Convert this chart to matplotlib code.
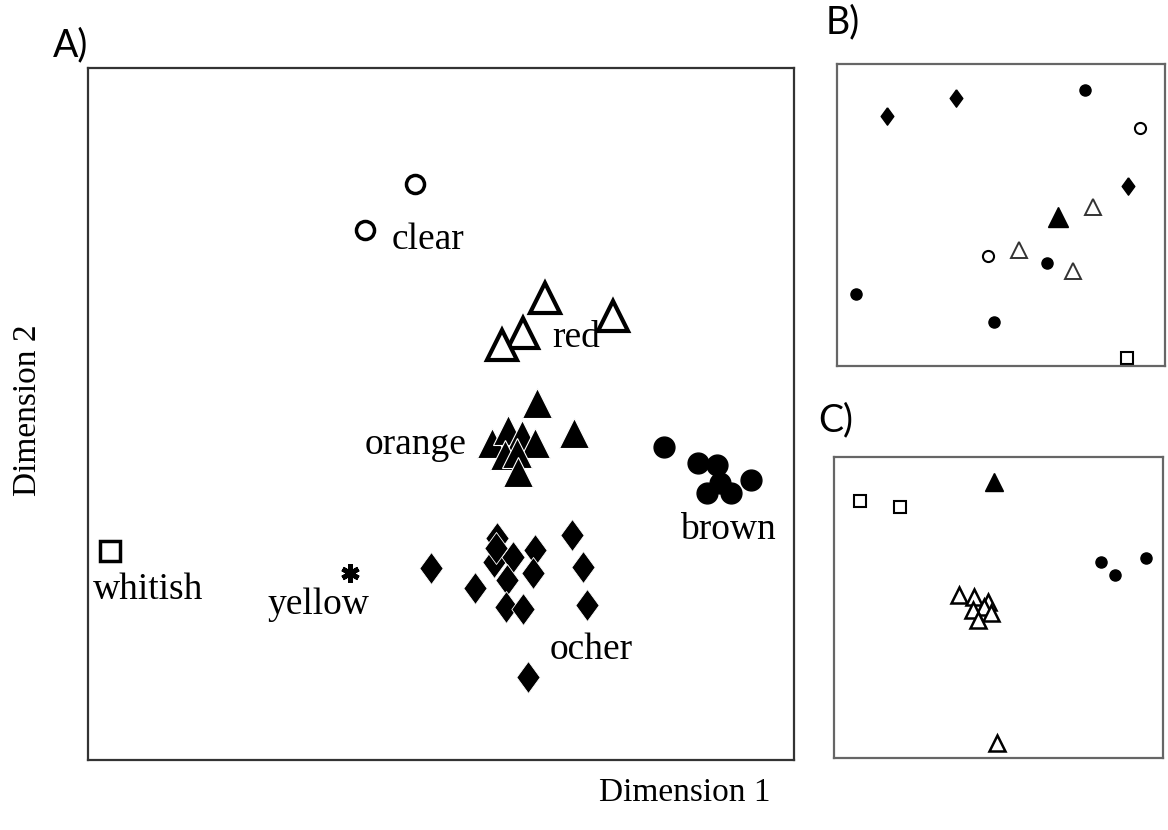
import matplotlib
matplotlib.use("Agg")
import matplotlib.pyplot as plt

# panel A: coordinates on dimension 1 / dimension 2 (arbitrary units)
clear_x = [327, 277]
clear_y = [576, 530]
red_x = [457, 525, 435, 414]
red_y = [462, 444, 427, 415]
orange_x = [449, 486, 404, 420, 434, 447, 417, 429, 430]
orange_y = [357, 327, 317, 330, 325, 317, 305, 307, 288]
brown_x = [576, 610, 629, 632, 619, 643, 663]
brown_y = [313, 297, 295, 277, 267, 267, 280]
ocher_x = [343, 409, 406, 425, 447, 484, 495, 387, 419, 445, 418, 435, 499, 440, 408]
ocher_y = [192, 222, 198, 203, 210, 225, 193, 172, 180, 187, 153, 151, 155, 83, 212]
whitish_x = [22]
whitish_y = [209]
yellow_x = [262]
yellow_y = [187]

# panel B
b_ocher_x = [50, 119, 291]
b_ocher_y = [250, 268, 180]
b_brown_x = [248, 210, 19, 157]
b_brown_y = [276, 103, 72, 44]
b_clear_x = [303, 151]
b_clear_y = [238, 110]
b_red_x = [256, 182, 236]
b_red_y = [159, 116, 95]
b_orange_x = [221]
b_orange_y = [149]
b_whitish_x = [290]
b_whitish_y = [8]

# panel C
c_orange_x = [160]
c_orange_y = [276]
c_whitish_x = [26, 66]
c_whitish_y = [257, 251]
c_brown_x = [267, 281, 312]
c_brown_y = [196, 183, 200]
c_red_x = [125, 140, 154, 150, 139, 157, 144, 163]
c_red_y = [163, 161, 156, 151, 148, 145, 138, 15]

serif = "Liberation Serif"
sans = "Lato"

# a diamond a bit wider than matplotlib's 'd'
diamond = [(0, 1), (0.73, 0), (0, -1), (-0.73, 0), (0, 1)]

fig = plt.figure(figsize=(11.68, 8.30), dpi=100)

axA = fig.add_axes([0.0753, 0.0843, 0.6045, 0.8337])
axB = fig.add_axes([0.7166, 0.5590, 0.2808, 0.3639])
axC = fig.add_axes([0.7140, 0.0867, 0.2817, 0.3627])

for ax, w, h, col in [(axA, 706, 692, "#333333"), (axB, 328, 302, "#666666"),
                      (axC, 329, 301, "#666666")]:
    ax.set_xlim(0, w)
    ax.set_ylim(0, h)
    ax.set_xticks([])
    ax.set_yticks([])
    for s in ax.spines.values():
        s.set_color(col)
        s.set_linewidth(1.6)

# --- A ---
axA.plot(clear_x, clear_y, 'o', ms=13, mfc='white', mec='black', mew=2.5, ls='none')
axA.plot(red_x, red_y, '^', ms=22, mfc='white', mec='black', mew=3, ls='none')
axA.plot(orange_x, orange_y, '^', ms=21, mfc='black', mec='white', mew=0.8, ls='none')
axA.plot(brown_x, brown_y, 'o', ms=15, mfc='black', mec='black', ls='none')
axA.plot(ocher_x, ocher_y, marker=diamond, ms=23, mfc='black', mec='white', mew=0.6,
         ls='none')
axA.plot(whitish_x, whitish_y, 's', ms=14, mfc='white', mec='black', mew=2.5, ls='none')
axA.plot(yellow_x, yellow_y, marker=(6, 2, 0), ms=13, mec='black', mew=3.5, ls='none')

lab = dict(fontsize=27, family=serif, va='center', ha='left')
axA.text(304, 520, "clear", **lab)
axA.text(464, 422, "red", **lab)
axA.text(277, 315, "orange", **lab)
axA.text(592, 230, "brown", **lab)
axA.text(5, 170, "whitish", **lab)
axA.text(180, 155, "yellow", **lab)
axA.text(462, 110, "ocher", **lab)

# --- B ---
axB.plot(b_ocher_x, b_ocher_y, marker=diamond, ms=12.5, mfc='black', mec='black', ls='none')
axB.plot(b_brown_x, b_brown_y, 'o', ms=8, mfc='black', mec='black', ls='none')
axB.plot(b_clear_x, b_clear_y, 'o', ms=8, mfc='white', mec='black', mew=1.5, ls='none')
axB.plot(b_red_x, b_red_y, '^', ms=12, mfc='white', mec='#333333', mew=1.4, ls='none')
axB.plot(b_orange_x, b_orange_y, '^', ms=14, mfc='black', mec='black', ls='none')
axB.plot(b_whitish_x, b_whitish_y, 's', ms=8, mfc='white', mec='black', mew=1.5, ls='none')

# --- C ---
axC.plot(c_orange_x, c_orange_y, '^', ms=13, mfc='black', mec='black', ls='none')
axC.plot(c_whitish_x, c_whitish_y, 's', ms=9, mfc='white', mec='black', mew=1.5, ls='none')
axC.plot(c_brown_x, c_brown_y, 'o', ms=8, mfc='black', mec='black', ls='none')
axC.plot(c_red_x, c_red_y, '^', ms=12, mfc='white', mec='black', mew=1.8, ls='none')

# panel letters and axis titles
fig.text(53 / 1168, 1 - 45 / 830, "A)", fontsize=27, family=sans, va='center', ha='left')
fig.text(826 / 1168, 1 - 22 / 830, "B)", fontsize=27, family=sans, va='center', ha='left')
fig.text(818 / 1168, 1 - 420 / 830, "C)", fontsize=27, family=sans, va='center', ha='left')
fig.text(685 / 1168, 1 - 793 / 830, "Dimension 1", fontsize=24, family=serif,
         va='center', ha='center')
fig.text(28 / 1168, 1 - 410 / 830, "Dimension 2", fontsize=24, family=serif,
         va='center', ha='center', rotation=90)

fig.savefig("out.png", dpi=100, facecolor='white')
